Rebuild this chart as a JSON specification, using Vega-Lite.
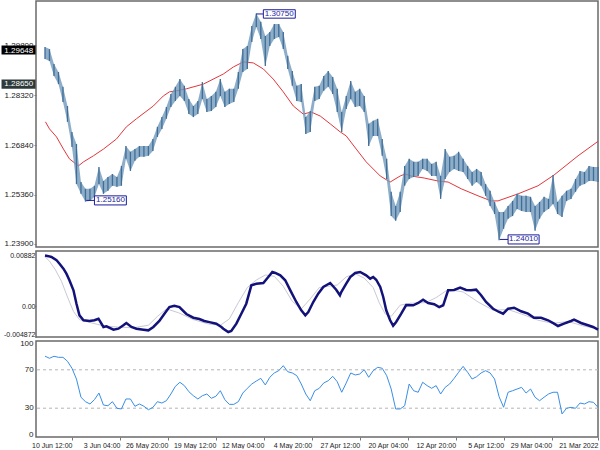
{
"$schema":"https://vega.github.io/schema/vega-lite/v6.json",
"padding":{"left":0,"top":0,"right":3,"bottom":0},
"spacing":0,
"config":{"font":"Liberation Sans","view":{"stroke":"#6a6a6a","strokeWidth":1.5},"axis":{"labelFontSize":8,"labelColor":"#222","tickColor":"#777","domain":false,"grid":false,"labelFont":"Liberation Sans"}},
"datasets":{
"px":[
{"t":0,"h":1.2619,"l":1.2574,"r":30.9},{"t":3,"h":1.2619,"l":1.2577,"r":36.1},{"t":6,"h":1.2622,"l":1.2577,"r":36.8},{"t":9,"h":1.2604,"l":1.2568,"r":34.4},{"t":12,"h":1.2607,"l":1.2563,"r":35.4},{"t":15,"h":1.2583,"l":1.2545,"r":29.9},{"t":18,"h":1.2554,"l":1.2524,"r":30.9},{"t":21,"h":1.2548,"l":1.2518,"r":29.9},{"t":24,"h":1.2533,"l":1.2470,"r":24.0},{"t":27,"h":1.2515,"l":1.2479,"r":46.6},
{"t":30,"h":1.2595,"l":1.2509,"r":46.6},{"t":33,"h":1.2524,"l":1.2494,"r":44.8},{"t":36,"h":1.2530,"l":1.2485,"r":41.4},{"t":39,"h":1.2515,"l":1.2465,"r":37.8},{"t":42,"h":1.2503,"l":1.2429,"r":41.4},{"t":45,"h":1.2530,"l":1.2485,"r":50.0},{"t":48,"h":1.2533,"l":1.2485,"r":45.8},{"t":51,"h":1.2533,"l":1.2488,"r":51.7},{"t":54,"h":1.2539,"l":1.2494,"r":50.0},{"t":57,"h":1.2518,"l":1.2473,"r":48.2},
{"t":60,"h":1.2503,"l":1.2465,"r":46.6},{"t":63,"h":1.2485,"l":1.2435,"r":31.0},{"t":66,"h":1.2485,"l":1.2401,"r":42.0},{"t":69,"h":1.2515,"l":1.2479,"r":60.4},{"t":72,"h":1.2548,"l":1.2503,"r":66.7},{"t":75,"h":1.2568,"l":1.2533,"r":69.1},{"t":78,"h":1.2604,"l":1.2563,"r":66.7},{"t":81,"h":1.2613,"l":1.2574,"r":62.8},{"t":84,"h":1.2604,"l":1.2563,"r":60.4},{"t":87,"h":1.2622,"l":1.2583,"r":67.4},
{"t":90,"h":1.2643,"l":1.2604,"r":73.6},{"t":93,"h":1.2664,"l":1.2607,"r":67.4},{"t":96,"h":1.2652,"l":1.2613,"r":61.1},{"t":99,"h":1.2649,"l":1.2604,"r":55.2},{"t":102,"h":1.2672,"l":1.2583,"r":51.7},{"t":105,"h":1.2592,"l":1.2524,"r":44.8},{"t":108,"h":1.2634,"l":1.2592,"r":53.5},{"t":111,"h":1.2628,"l":1.2592,"r":50.7},{"t":114,"h":1.2643,"l":1.2607,"r":53.5},{"t":117,"h":1.2643,"l":1.2613,"r":57.0},
{"t":120,"h":1.2634,"l":1.2592,"r":46.6},{"t":123,"h":1.2634,"l":1.2589,"r":48.2},{"t":126,"h":1.2643,"l":1.2583,"r":55.2},{"t":129,"h":1.2622,"l":1.2563,"r":32.6},{"t":132,"h":1.2545,"l":1.2485,"r":29.2},{"t":135,"h":1.2503,"l":1.2459,"r":29.2},{"t":138,"h":1.2545,"l":1.2473,"r":50.0},{"t":141,"h":1.2643,"l":1.2583,"r":63.9},{"t":144,"h":1.2702,"l":1.2652,"r":71.6},{"t":147,"h":1.2762,"l":1.2711,"r":72.6},
{"t":150,"h":1.2756,"l":1.2711,"r":69.1},{"t":153,"h":1.2747,"l":1.2681,"r":62.2},{"t":156,"h":1.2830,"l":1.2782,"r":70.1},{"t":159,"h":1.2851,"l":1.2800,"r":65.6},{"t":162,"h":1.2842,"l":1.2797,"r":64.6},{"t":165,"h":1.2874,"l":1.2821,"r":66.7},{"t":168,"h":1.2830,"l":1.2791,"r":56.3},{"t":171,"h":1.2782,"l":1.2723,"r":46.6},{"t":174,"h":1.2851,"l":1.2782,"r":57.6},{"t":177,"h":1.2886,"l":1.2836,"r":63.2},
{"t":180,"h":1.2904,"l":1.2857,"r":58.6},{"t":183,"h":1.2889,"l":1.2845,"r":56.3},{"t":186,"h":1.2860,"l":1.2821,"r":50.7},{"t":189,"h":1.2857,"l":1.2815,"r":48.2},{"t":192,"h":1.2785,"l":1.2723,"r":37.8},{"t":195,"h":1.2767,"l":1.2717,"r":44.8},{"t":198,"h":1.2865,"l":1.2812,"r":55.2},{"t":201,"h":1.2860,"l":1.2815,"r":63.9},{"t":204,"h":1.2904,"l":1.2860,"r":66.7},{"t":207,"h":1.2949,"l":1.2910,"r":68.0},
{"t":210,"h":1.3020,"l":1.2969,"r":74.3},{"t":213,"h":1.3044,"l":1.3005,"r":69.1},{"t":216,"h":1.3044,"l":1.2999,"r":66.7},{"t":219,"h":1.3020,"l":1.2978,"r":62.2},{"t":222,"h":1.3008,"l":1.2919,"r":54.2},{"t":225,"h":1.3050,"l":1.2999,"r":61.1},{"t":228,"h":1.3075,"l":1.3035,"r":58.3},{"t":231,"h":1.3038,"l":1.2990,"r":55.2},{"t":234,"h":1.2978,"l":1.2910,"r":50.7},{"t":237,"h":1.2969,"l":1.2901,"r":45.8},
{"t":240,"h":1.2901,"l":1.2851,"r":36.8},{"t":243,"h":1.2851,"l":1.2812,"r":34.0},{"t":246,"h":1.2851,"l":1.2806,"r":34.0},{"t":249,"h":1.2842,"l":1.2797,"r":38.9},{"t":252,"h":1.2880,"l":1.2830,"r":48.2},{"t":255,"h":1.2842,"l":1.2797,"r":42.4},{"t":258,"h":1.2830,"l":1.2785,"r":40.3},{"t":261,"h":1.2821,"l":1.2782,"r":44.8},{"t":264,"h":1.2871,"l":1.2821,"r":43.0},{"t":267,"h":1.2815,"l":1.2776,"r":39.6},
{"t":270,"h":1.2800,"l":1.2767,"r":43.0},{"t":273,"h":1.2821,"l":1.2776,"r":47.2},{"t":276,"h":1.2860,"l":1.2815,"r":53.5},{"t":279,"h":1.2880,"l":1.2830,"r":57.0},{"t":282,"h":1.2857,"l":1.2815,"r":52.8},{"t":285,"h":1.2836,"l":1.2797,"r":44.8},{"t":288,"h":1.2797,"l":1.2762,"r":37.8},{"t":291,"h":1.2767,"l":1.2732,"r":35.4},{"t":294,"h":1.2738,"l":1.2708,"r":36.8},{"t":297,"h":1.2702,"l":1.2666,"r":30.9},
{"t":300,"h":1.2681,"l":1.2652,"r":28.4},{"t":303,"h":1.2681,"l":1.2649,"r":32.0},{"t":306,"h":1.2681,"l":1.2649,"r":34.4},{"t":309,"h":1.2672,"l":1.2637,"r":32.0},{"t":312,"h":1.2664,"l":1.2607,"r":39.6},{"t":315,"h":1.2681,"l":1.2643,"r":39.6},{"t":318,"h":1.2622,"l":1.2563,"r":29.2},{"t":321,"h":1.2589,"l":1.2560,"r":29.9},{"t":324,"h":1.2598,"l":1.2563,"r":36.8},{"t":327,"h":1.2589,"l":1.2548,"r":32.6},
{"t":330,"h":1.2577,"l":1.2539,"r":33.3},{"t":333,"h":1.2619,"l":1.2568,"r":45.8},{"t":336,"h":1.2563,"l":1.2530,"r":38.9},{"t":339,"h":1.2554,"l":1.2518,"r":34.4},{"t":342,"h":1.2554,"l":1.2516,"r":36.8},{"t":345,"h":1.2574,"l":1.2539,"r":41.4},{"t":348,"h":1.2687,"l":1.2568,"r":60.4},{"t":351,"h":1.2723,"l":1.2678,"r":71.6},{"t":354,"h":1.2800,"l":1.2753,"r":78.9},{"t":357,"h":1.2857,"l":1.2812,"r":83.0},
{"t":360,"h":1.2901,"l":1.2865,"r":83.0},{"t":363,"h":1.2925,"l":1.2889,"r":84.1},{"t":366,"h":1.2969,"l":1.2934,"r":82.0},{"t":369,"h":1.2975,"l":1.2940,"r":84.2}
],
"ma":[
{"t":0,"v":1.2695},{"t":13.3,"v":1.2652},{"t":29.3,"v":1.2595},{"t":40,"v":1.2563},{"t":53.3,"v":1.2539},{"t":66.7,"v":1.2518},{"t":71.3,"v":1.2518},{"t":80,"v":1.2533},{"t":91.3,"v":1.2554},{"t":100,"v":1.2574},{"t":106.7,"v":1.2577},{"t":116,"v":1.2586},{"t":124.7,"v":1.2592},{"t":128.7,"v":1.2598},{"t":132,"v":1.2592},{"t":138.7,"v":1.2574},{"t":145.3,"v":1.2592},{"t":154.7,"v":1.2634},{"t":161.3,"v":1.2672},{"t":168,"v":1.2711},{"t":172,"v":1.2723},{"t":178.7,"v":1.2747},{"t":185.3,"v":1.2770},{"t":191.3,"v":1.2782},{"t":196.7,"v":1.2776},{"t":203.3,"v":1.2800},{"t":210,"v":1.2842},{"t":216.7,"v":1.2880},{"t":223.3,"v":1.2910},{"t":230,"v":1.2928},{"t":236.7,"v":1.2931},{"t":243.3,"v":1.2916},{"t":250,"v":1.2895},{"t":252.7,"v":1.2889},{"t":263.3,"v":1.2865},{"t":274.7,"v":1.2851},{"t":281.3,"v":1.2845},{"t":286,"v":1.2842},{"t":290,"v":1.2830},{"t":296.7,"v":1.2800},{"t":308,"v":1.2762},{"t":314.7,"v":1.2738},{"t":321.3,"v":1.2702},{"t":330,"v":1.2672},{"t":336.7,"v":1.2652},{"t":343.3,"v":1.2634},{"t":346.7,"v":1.2622},{"t":352.7,"v":1.2643},{"t":356.7,"v":1.2672},{"t":361.3,"v":1.2708},{"t":366,"v":1.2732},{"t":368.7,"v":1.2753}
],
"macd":[
{"t":0,"m":-0.0037},{"t":3.3,"m":-0.00328},{"t":6.7,"m":-0.00301},{"t":11.3,"m":-0.00264},{"t":16,"m":-0.00212},{"t":18,"m":-0.00232},{"t":22.7,"m":-0.00275},{"t":26.7,"m":-0.00312},{"t":29.3,"m":-0.00275},{"t":33.3,"m":-0.00221},{"t":38,"m":-0.0018},{"t":42.7,"m":-0.0018},{"t":46.7,"m":-0.00116},{"t":51.3,"m":-0.00078},{"t":56,"m":-0.00021},{"t":60,"m":-0.00037},{"t":63.3,"m":-0.00116},{"t":66,"m":-0.00089},{"t":70,"m":-0.00037},{"t":74.7,"m":0.0007},{"t":78,"m":0.00177},{"t":81.3,"m":0.00266},{"t":84.7,"m":0.00256},{"t":88,"m":0.00261},{"t":92,"m":0.00298},{"t":96,"m":0.00261},{"t":100,"m":0.00256},{"t":103.3,"m":0.00018},{"t":106,"m":-0.0001},{"t":109.3,"m":0.00034},{"t":113.3,"m":0.00054},{"t":116.7,"m":0.00107},{"t":120,"m":0.00054},{"t":123.3,"m":0.00018},{"t":128,"m":0.00022},{"t":131.3,"m":-0.00116},{"t":134.7,"m":-0.00248},{"t":136.7,"m":-0.00307},{"t":138.7,"m":-0.00221},{"t":141.3,"m":-0.00062},{"t":143.3,"m":0.0015},{"t":145.3,"m":0.00309},{"t":148,"m":0.00425},{"t":150,"m":0.00468},{"t":152,"m":0.00441},{"t":154.7,"m":0.00495},{"t":158.7,"m":0.00548},{"t":162,"m":0.00532},{"t":165.3,"m":0.00468},{"t":168,"m":0.00361},{"t":171.3,"m":0.00229},{"t":172.2,"m":0.00177},{"t":174.7,"m":0.00266},{"t":178.7,"m":0.00373},{"t":183.3,"m":0.00309},{"t":186.7,"m":0.00202},{"t":190,"m":0.0007},{"t":193.3,"m":-0.00089},{"t":195.3,"m":-0.00142},{"t":198,"m":-0.00062},{"t":201.3,"m":0.0007},{"t":205.3,"m":0.00256},{"t":208.7,"m":0.00416},{"t":212,"m":0.00495},{"t":215.3,"m":0.00532},{"t":217.3,"m":0.00548},{"t":220,"m":0.00468},{"t":223.3,"m":0.00373},{"t":228,"m":0.00361},{"t":231.3,"m":0.00336},{"t":234.7,"m":0.00043},{"t":238,"m":-0.00116},{"t":241.3,"m":-0.00275},{"t":244.7,"m":-0.00392},{"t":246.7,"m":-0.00408},{"t":250,"m":-0.00355},{"t":251.3,"m":-0.00328},{"t":254.7,"m":-0.00275},{"t":259.3,"m":-0.0025},{"t":262.7,"m":-0.00232},{"t":266,"m":-0.00201},{"t":270,"m":-0.0018},{"t":274.7,"m":-0.00121},{"t":279.3,"m":-0.0001},{"t":282.7,"m":0.00011},{"t":286,"m":-0.0001},{"t":289.3,"m":-0.00116},{"t":292.7,"m":-0.00232},{"t":296.7,"m":-0.00328},{"t":300,"m":-0.00381},{"t":303.3,"m":-0.00371},{"t":308,"m":-0.00355},{"t":311.3,"m":-0.00328},{"t":314.7,"m":-0.00264},{"t":316.7,"m":-0.00301},{"t":320,"m":-0.00355},{"t":323.3,"m":-0.00371},{"t":328,"m":-0.00317},{"t":330,"m":-0.00328},{"t":333.3,"m":-0.00196},{"t":336,"m":-0.00221},{"t":339.3,"m":-0.00232},{"t":343.3,"m":-0.00221},{"t":346,"m":-0.00142},{"t":348,"m":0.00043},{"t":350,"m":0.00256},{"t":352.7,"m":0.00416},{"t":354.7,"m":0.00521},{"t":356.7,"m":0.006},{"t":359.3,"m":0.0068},{"t":361.3,"m":0.00734},{"t":364.7,"m":0.00787},{"t":366.7,"m":0.008},{"t":369,"m":0.0081}
],
"sig":[
{"t":0,"s":-0.0036},{"t":10,"s":-0.0031},{"t":20,"s":-0.0024},{"t":30,"s":-0.0027},{"t":40,"s":-0.0022},{"t":50,"s":-0.0013},{"t":60,"s":-0.0005},{"t":70,"s":-0.0006},{"t":80,"s":0.0007},{"t":90,"s":0.0023},{"t":100,"s":0.0027},{"t":108,"s":0.0014},{"t":115,"s":0.0006},{"t":125,"s":0.0005},{"t":132,"s":0.0002},{"t":138,"s":-0.0016},{"t":142,"s":-0.0012},{"t":146,"s":0.0006},{"t":150,"s":0.0030},{"t":156,"s":0.0045},{"t":162,"s":0.0052},{"t":168,"s":0.0047},{"t":174,"s":0.0034},{"t":180,"s":0.0032},{"t":186,"s":0.0030},{"t":192,"s":0.0012},{"t":198,"s":-0.0004},{"t":204,"s":0.0008},{"t":210,"s":0.0032},{"t":216,"s":0.0048},{"t":222,"s":0.0050},{"t":228,"s":0.0042},{"t":234,"s":0.0030},{"t":240,"s":0.0006},{"t":246,"s":-0.0020},{"t":252,"s":-0.0030},{"t":260,"s":-0.0028},{"t":270,"s":-0.0021},{"t":280,"s":-0.0010},{"t":288,"s":-0.0004},{"t":294,"s":-0.0016},{"t":300,"s":-0.0030},{"t":310,"s":-0.0034},{"t":320,"s":-0.0033},{"t":330,"s":-0.0031},{"t":340,"s":-0.0025},{"t":346,"s":-0.0021},{"t":350,"s":-0.0008},{"t":354,"s":0.0015},{"t":358,"s":0.0040},{"t":362,"s":0.0058},{"t":366,"s":0.0072},{"t":369,"s":0.0079}
],
"notes":[
{"ta":223.3,"tb":202,"pa":1.3061,"pb":1.3086,"tm":212.7,"pm":1.30735,"lab":"1.30750","tc":228},
{"ta":336,"tb":314.7,"pa":1.2506,"pb":1.2533,"tm":325.3,"pm":1.25195,"lab":"1.25160","tc":341.5},
{"ta":60,"tb":39.3,"pa":1.2390,"pb":1.2417,"tm":49.7,"pm":1.24035,"lab":"1.24010","tc":65.5}
],
"tags":[
{"p":1.29648,"pa":1.2953,"pb":1.2980,"lab":"1.29648","bg":"#000000"},
{"p":1.2865,"pa":1.2851,"pb":1.2879,"lab":"1.28650","bg":"#2e3a3a"}
],
"lev":[{"lv":30,"lab":"30"},{"lv":70,"lab":"70"}]
},
"vconcat":[
{
"width":562,"height":246,
"layer":[
{"mark":{"type":"rule","color":"#c4c4c4","strokeWidth":1},
 "encoding":{"y":{"datum":1.29648,"type":"quantitative","title":null,"scale":{"domain":[1.2381,1.3112],"nice":false,"zero":false},
  "axis":{"values":[1.239,1.2464,1.2536,1.261,1.2684,1.2758,1.2832,1.2906,1.298,1.3052],"format":".5f","tickSize":2,"labelPadding":1}}}},
{"mark":{"type":"rule","color":"#9a9a9a","strokeWidth":1,"strokeDash":[2,2]},
 "encoding":{"y":{"datum":1.2865,"type":"quantitative","title":null}}},
{"mark":{"type":"text","fontSize":19,"color":"#c6c6c6"},
 "encoding":{"x":{"datum":233,"type":"quantitative","title":null,"scale":{"domain":[0,375],"reverse":true,"nice":false,"zero":false},"axis":null},
  "y":{"datum":1.2524,"type":"quantitative","title":null},"text":{"value":"ActionForex.com"}}},
{"data":{"name":"ma"},"mark":{"type":"line","color":"#e2363c","strokeWidth":1},
 "encoding":{"x":{"field":"t","type":"quantitative","title":null},"y":{"field":"v","type":"quantitative","title":null}}},
{"data":{"name":"px"},"mark":{"type":"area","color":"#7099bc","opacity":0.8},
 "encoding":{"x":{"field":"t","type":"quantitative","title":null},"y":{"field":"l","type":"quantitative","title":null},"y2":{"field":"h"}}},
{"data":{"name":"px"},"mark":{"type":"rule","color":"#3f6d96","strokeWidth":1.3},
 "encoding":{"x":{"field":"t","type":"quantitative","title":null},"y":{"field":"l","type":"quantitative","title":null},"y2":{"field":"h"}}},
{"mark":{"type":"rule","color":"#8a8a8a","strokeWidth":1,"strokeDash":[2,2]},
 "encoding":{"x":{"datum":0,"type":"quantitative","title":null},"x2":{"datum":40},"y":{"datum":1.2441,"type":"quantitative","title":null},"y2":{"datum":1.2426}}},
{"data":{"name":"notes"},"mark":{"type":"rule","color":"#1c1c9c","strokeWidth":1},
 "encoding":{"x":{"field":"tc","type":"quantitative","title":null},"x2":{"field":"ta"},"y":{"field":"pm","type":"quantitative","title":null}}},
{"data":{"name":"notes"},"mark":{"type":"rect","fill":"#ffffff","stroke":"#1c1c9c","strokeWidth":1},
 "encoding":{"x":{"field":"ta","type":"quantitative","title":null},"x2":{"field":"tb"},"y":{"field":"pa","type":"quantitative","title":null},"y2":{"field":"pb"}}},
{"data":{"name":"notes"},"mark":{"type":"text","fontSize":8,"color":"#1c1c9c"},
 "encoding":{"x":{"field":"tm","type":"quantitative","title":null},"y":{"field":"pm","type":"quantitative","title":null},"text":{"field":"lab"}}},
{"data":{"name":"tags"},"mark":{"type":"rect"},
 "encoding":{"x":{"datum":398,"type":"quantitative","title":null},"x2":{"datum":375.3},"y":{"field":"pa","type":"quantitative","title":null},"y2":{"field":"pb"},"fill":{"field":"bg","type":"nominal","scale":null}}},
{"data":{"name":"tags"},"mark":{"type":"text","fontSize":8,"color":"#ffffff"},
 "encoding":{"x":{"datum":386.5,"type":"quantitative","title":null},"y":{"field":"p","type":"quantitative","title":null},"text":{"field":"lab"}}},
{"mark":{"type":"text","fontSize":7.5,"align":"right","color":"#111111"},
 "encoding":{"x":{"datum":8,"type":"quantitative","title":null},"y":{"datum":1.3097,"type":"quantitative","title":null},"text":{"value":"USDCAD,H4  1.29657 1.29706 1.29614 1.29648"}}},
{"mark":{"type":"text","fontSize":6,"align":"center","color":"#111111"},
 "encoding":{"x":{"datum":2.7,"type":"quantitative","title":null},"y":{"datum":1.3097,"type":"quantitative","title":null},"text":{"value":"▼"}}}
]
},
{
"width":562,"height":86,
"layer":[
{"mark":{"type":"rule","color":"#b4b4b4","strokeWidth":1,"strokeDash":[3,3]},
 "encoding":{"y":{"datum":0,"type":"quantitative","title":null,"scale":{"domain":[-0.004872,0.00882],"nice":false,"zero":false},
  "axis":{"values":[-0.004872,0,0.00882],"labelFlush":true,"labelFontSize":7,"tickSize":1,"labelPadding":0,"labelExpr":"datum.value == 0 ? '0.00' : (datum.value > 0 ? '0.00882' : '-0.004872')"}}}},
{"data":{"name":"sig"},"mark":{"type":"line","color":"#c9c9d6","strokeWidth":1},
 "encoding":{"x":{"field":"t","type":"quantitative","title":null,"scale":{"domain":[0,375],"reverse":true,"nice":false,"zero":false},"axis":null},"y":{"field":"s","type":"quantitative","title":null}}},
{"data":{"name":"macd"},"mark":{"type":"line","color":"#12127a","strokeWidth":2.5},
 "encoding":{"x":{"field":"t","type":"quantitative","title":null},"y":{"field":"m","type":"quantitative","title":null}}},
{"mark":{"type":"text","fontSize":7.5,"align":"right","color":"#111111"},
 "encoding":{"x":{"datum":4,"type":"quantitative","title":null},"y":{"datum":0.00786,"type":"quantitative","title":null},"text":{"value":"MACD(12,26,9) 0.008083 0.007901"}}}
]
},
{
"width":562,"height":96,
"layer":[
{"data":{"name":"lev"},"mark":{"type":"rule","color":"#b4b4b4","strokeWidth":1,"strokeDash":[3,3]},
 "encoding":{"y":{"field":"lv","type":"quantitative","title":null,"scale":{"domain":[0,100],"nice":false,"zero":false},
  "axis":{"values":[3,97],"labelOverlap":false,"tickSize":0,"labelPadding":3,
   "labelExpr":"datum.value < 50 ? '0' : '100'"}}}},
{"data":{"name":"lev"},"mark":{"type":"text","fontSize":8,"align":"right","color":"#222222"},
 "encoding":{"x":{"datum":376.5,"type":"quantitative","title":null,"scale":{"domain":[0,375],"reverse":true,"nice":false,"zero":false}},"y":{"field":"lv","type":"quantitative","title":null},"text":{"field":"lab"}}},
{"data":{"name":"px"},"mark":{"type":"line","color":"#3a8ee6","strokeWidth":1},
 "encoding":{"x":{"field":"t","type":"quantitative","title":null,"scale":{"domain":[0,375],"reverse":true,"nice":false,"zero":false},
  "axis":{"values":[0,31,63,95,127,159,191,223,255,287,319,351],"labelAlign":"right","labelAngle":0,"tickSize":3,"labelPadding":1,"labelFlush":false,"labelOverlap":false,"labelFontSize":7,
   "labelExpr":"['21 Mar 2022','29 Mar 04:00','5 Apr 12:00','12 Apr 20:00','20 Apr 04:00','27 Apr 12:00','4 May 20:00','12 May 04:00','19 May 12:00','26 May 20:00','3 Jun 04:00','10 Jun 12:00'][indexof([0,31,63,95,127,159,191,223,255,287,319,351], datum.value)]"}},
  "y":{"field":"r","type":"quantitative","title":null}}},
{"mark":{"type":"text","fontSize":7.5,"align":"right","color":"#111111"},
 "encoding":{"x":{"datum":4,"type":"quantitative","title":null},"y":{"datum":92.7,"type":"quantitative","title":null},"text":{"value":"RSI(14) 84.2015"}}}
]
}
]
}
